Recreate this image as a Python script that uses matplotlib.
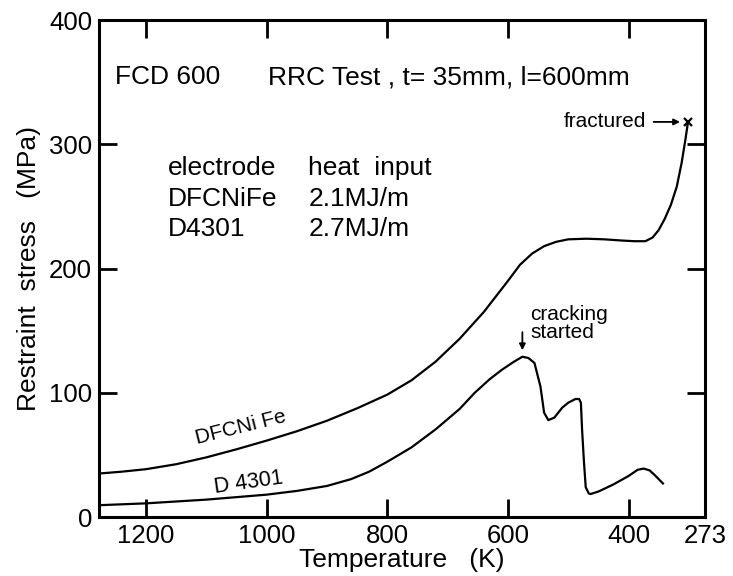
import matplotlib.pyplot as plt

plt.rcParams["font.family"] = ["Liberation Sans", "DejaVu Sans"]

# DFCNiFe, 2.1 MJ/m  (temperature K, restraint stress MPa)
temp_nife = [1278, 1240, 1200, 1150, 1100, 1050, 1000, 950, 900, 850, 800,
             760, 720, 680, 640, 600, 580, 560, 540, 520, 500, 470, 440,
             410, 390, 372, 360, 350, 340, 330, 320, 312, 306, 302]
stress_nife = [35, 36.5, 38.5, 42.5, 48, 54.5, 61.5, 69, 77.5, 87.5, 98.5,
               110, 125, 143.5, 165, 190, 203, 212, 218, 221.5, 223.5, 224, 223.5,
               222.5, 222, 222, 225, 231, 240, 251, 266, 285, 303, 316]

# D4301, 2.7 MJ/m
temp_d4301 = [1278, 1200, 1100, 1000, 950, 900, 860, 830, 800, 760, 720, 680,
              655, 630, 610, 590, 576, 566, 556, 546, 540, 533, 523, 510,
              500, 488, 482, 479, 477, 474, 471, 466, 463, 450, 426, 400,
              385, 375, 365, 355, 343]
stress_d4301 = [9.5, 11, 14, 18, 21, 25, 30.5, 36.5, 44.5, 56, 70.5, 87,
                100, 111, 118.5, 125, 129, 128, 124, 105, 84, 78, 80, 88,
                92, 95, 95, 92, 70, 45, 24, 19, 18.5, 20.5, 26, 33,
                38, 39, 37.5, 33, 27]

x_ticks = [1200, 1000, 800, 600, 400, 273]
y_ticks = [0, 100, 200, 300, 400]

fig = plt.figure(figsize=(7.33, 5.76), dpi=100)
ax = fig.add_axes([0.135, 0.1024, 0.827, 0.8628])

ax.plot(temp_nife, stress_nife, color="black", lw=1.6)
ax.plot(temp_d4301, stress_d4301, color="black", lw=1.6)

# fracture mark
ax.plot([301], [318], marker="x", color="black", ms=6, mew=1.6)

ax.set_xlim(1278, 273)
ax.set_ylim(0, 400)
ax.set_xticks(x_ticks)
ax.set_yticks(y_ticks)
ax.tick_params(direction="in", length=13, width=2, labelsize=18.5,
               top=True, right=True, pad=5)
for s in ax.spines.values():
    s.set_linewidth(2.2)

ax.set_xlabel("Temperature   (K)", fontsize=19, labelpad=0)
ax.set_ylabel("Restraint  stress   (MPa)", fontsize=19, labelpad=6)

fs = 19
ax.text(1251, 354, "FCD 600", fontsize=fs, va="center")
ax.text(997, 354, "RRC Test , t= 35mm, l=600mm", fontsize=fs, va="center")

ax.text(1163, 281, "electrode", fontsize=fs, va="center")
ax.text(931, 281, "heat  input", fontsize=fs, va="center")
ax.text(1163, 256, "DFCNiFe", fontsize=fs, va="center")
ax.text(931, 256, "2.1MJ/m", fontsize=fs, va="center")
ax.text(1163, 232, "D4301", fontsize=fs, va="center")
ax.text(931, 232, "2.7MJ/m", fontsize=fs, va="center")

ax.text(1043, 72, "DFCNi Fe", fontsize=15, rotation=14,
        ha="center", va="center")
ax.text(1030, 28, "D 4301", fontsize=15.5, rotation=8,
        ha="center", va="center")

ax.text(563, 156, "cracking\nstarted", fontsize=15, va="center",
        linespacing=0.95)
ax.annotate("", xy=(576, 132), xytext=(576, 151),
            arrowprops=dict(arrowstyle="-|>", color="black", lw=1.3,
                            mutation_scale=9))

ax.text(371, 318, "fractured", fontsize=15, ha="right", va="center")
ax.annotate("", xy=(310, 318), xytext=(363, 318),
            arrowprops=dict(arrowstyle="-|>", color="black", lw=1.3,
                            mutation_scale=9))

fig.savefig("out.png", dpi=100)
